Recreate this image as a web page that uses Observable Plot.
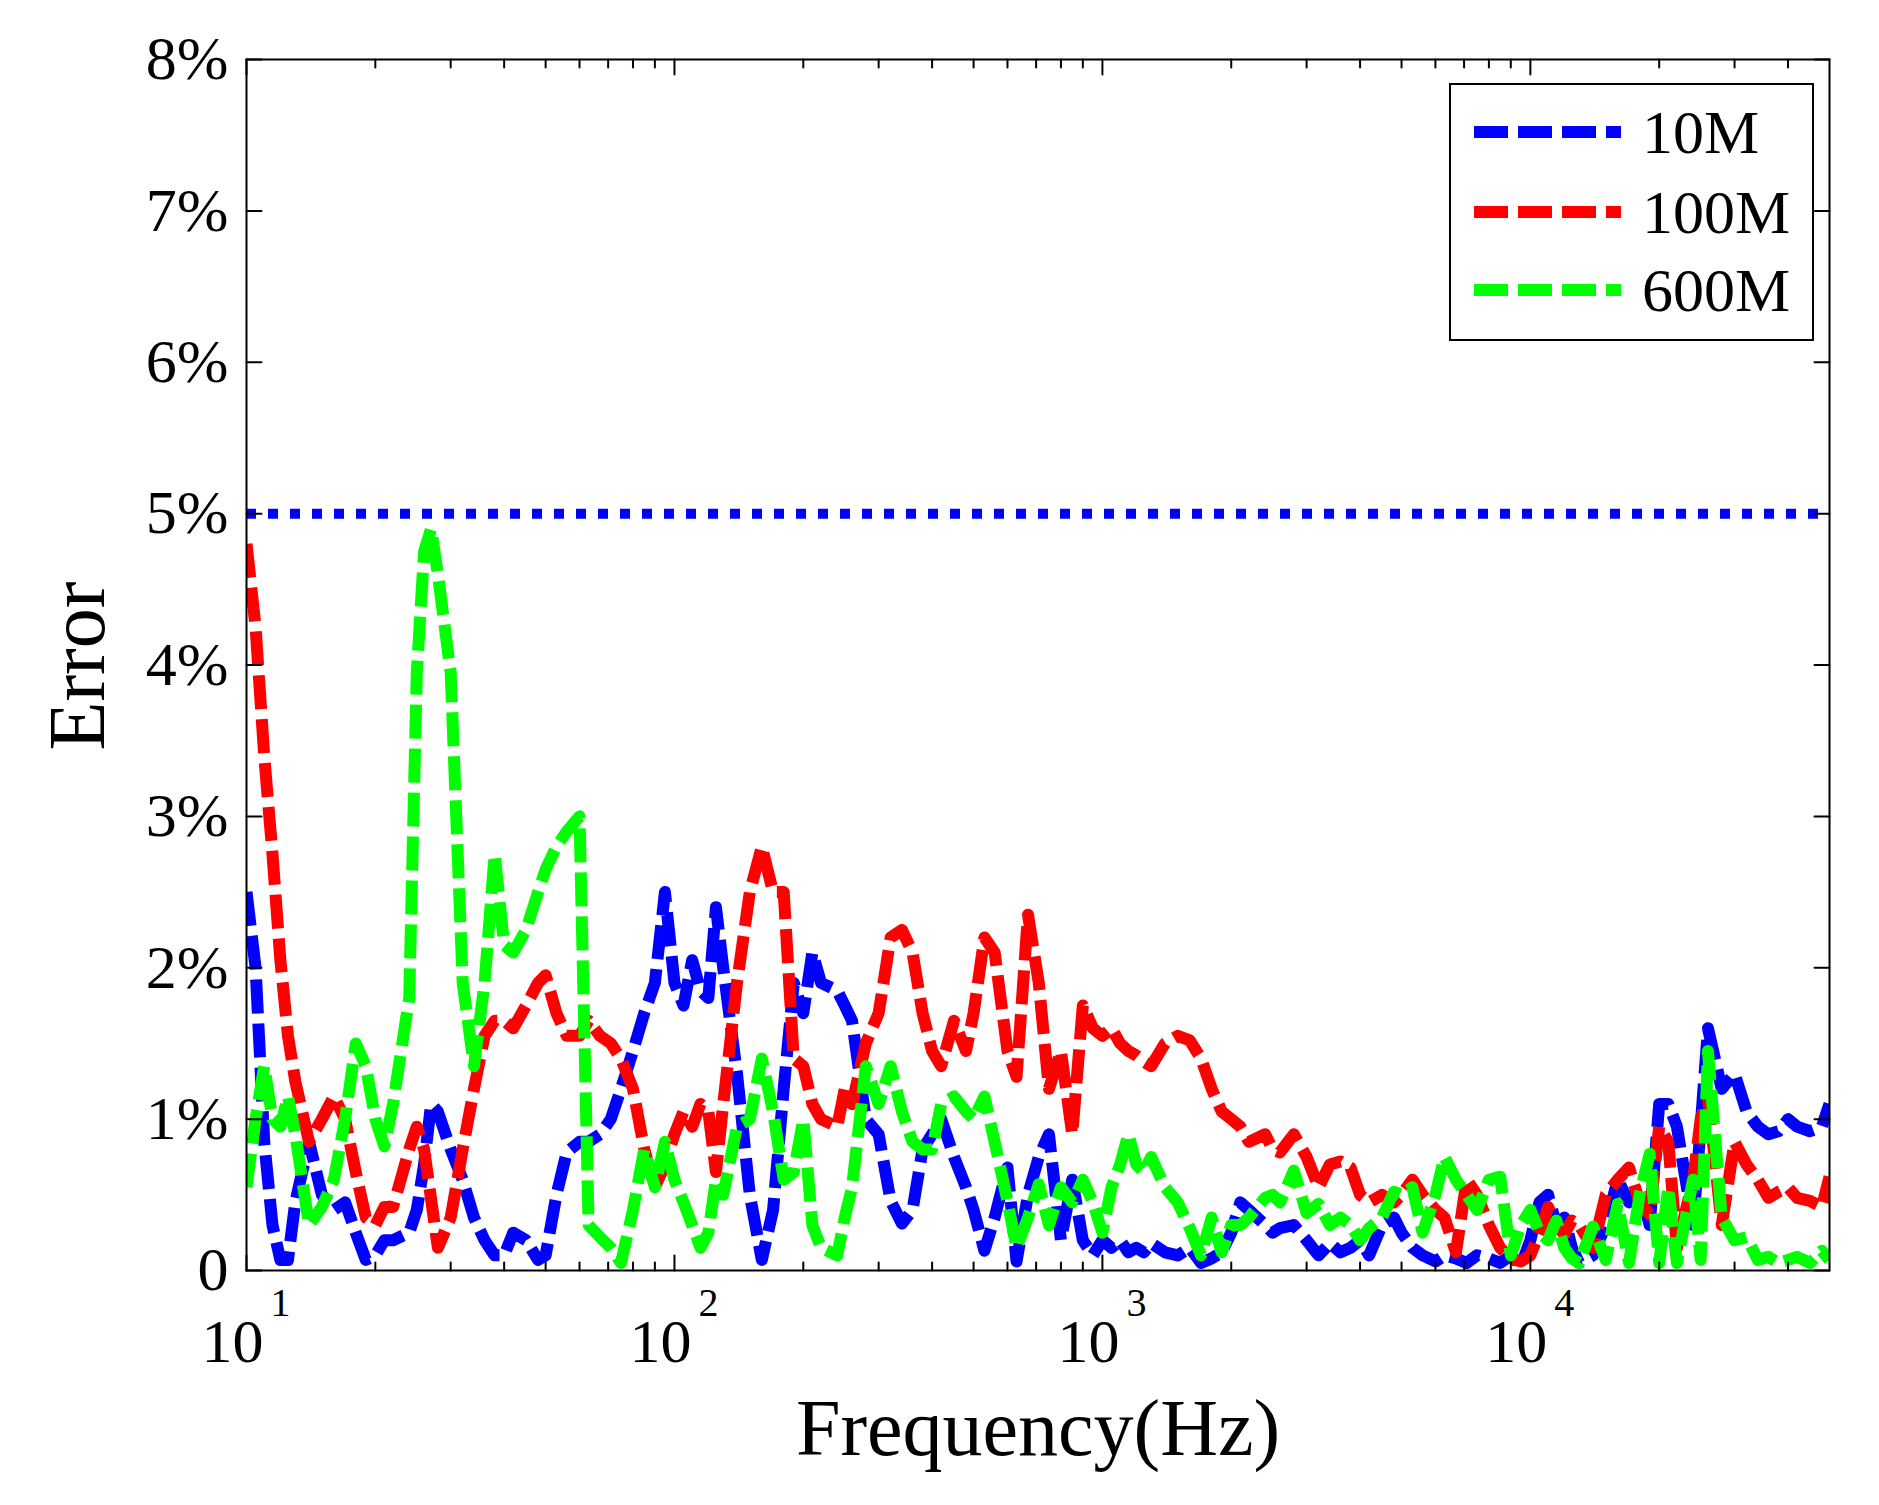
<!DOCTYPE html>
<html><head><meta charset="utf-8">
<script src="https://cdn.jsdelivr.net/npm/d3@7"></script>
<script src="https://cdn.jsdelivr.net/npm/@observablehq/plot@0.6"></script>
<style>
body{margin:0;background:#fff}
#chart{width:1879px;height:1505px}
</style>
</head><body><div id="chart"></div>
<script>
// ---- data (frequency in Hz, error in %) ----
const freqHz = [
  10,10.5,11,11.5,12,12.5,13,14,15,16,17,18,19,20,21,22,24,25,26,27,28,30,32,34,36,38,40,42,45,48,50,53,56,60,63,67,71,75,80,85,90,95,
  100,105,110,115,120,125,130,140,150,160,170,180,190,200,210,220,240,250,260,280,300,320,340,360,380,400,420,450,480,500,530,560,600,630,670,710,750,800,850,900,950,
  1000,1050,1100,1150,1200,1250,1300,1400,1500,1600,1700,1800,1900,2000,2100,2200,2400,2500,2600,2800,3000,3200,3400,3600,3800,4000,4200,4500,4800,5000,5300,5600,6000,6300,6700,7100,7500,8000,8500,9000,9500,
  10000,10500,11000,11500,12000,12500,13000,14000,15000,16000,17000,18000,19000,20000,21000,22000,24000,25000,26000,28000,30000,32000,34000,36000,38000,40000,42000,45000,48000,50000
];
const err10M = [
  2.5,2.0,0.85,0.3,0.07,0.07,0.45,0.85,0.5,0.4,0.45,0.25,0.07,0.1,0.2,0.2,0.25,0.4,0.7,1.1,1.05,0.8,0.6,0.35,0.2,0.1,0.1,0.25,0.2,0.07,0.1,0.5,0.78,0.85,0.85,0.9,1.0,1.2,1.45,1.7,1.9,2.5,
  1.9,1.75,2.05,1.85,1.8,2.4,2.0,1.3,0.5,0.07,0.4,1.2,1.9,1.7,2.1,1.9,1.85,1.75,1.65,1.0,0.9,0.46,0.31,0.4,0.8,0.9,1.0,0.75,0.55,0.4,0.13,0.35,0.68,0.06,0.5,0.75,0.9,0.2,0.6,0.2,0.1,
  0.2,0.15,0.2,0.12,0.15,0.12,0.18,0.12,0.1,0.15,0.05,0.08,0.12,0.25,0.45,0.4,0.3,0.25,0.28,0.3,0.2,0.1,0.18,0.12,0.15,0.2,0.1,0.3,0.35,0.25,0.15,0.1,0.06,0.1,0.08,0.05,0.1,0.08,0.05,0.1,0.03,
  0.2,0.45,0.5,0.3,0.35,0.15,0.05,0.1,0.3,0.6,0.45,0.55,0.3,1.1,1.1,0.95,0.3,0.95,1.6,1.2,1.3,1.05,0.95,0.9,0.92,1.0,0.95,0.92,0.95,1.1
];
const err100M = [
  4.8,4.25,3.4,2.75,2.05,1.55,1.25,0.85,1.0,1.15,1.0,0.65,0.35,0.3,0.42,0.42,0.8,0.95,0.8,0.47,0.15,0.35,0.8,1.2,1.55,1.65,1.65,1.6,1.75,1.9,1.95,1.7,1.55,1.55,1.65,1.55,1.5,1.4,1.2,0.8,0.55,0.7,
  0.9,1.05,0.95,1.1,1.05,0.65,1.1,1.9,2.5,2.8,2.5,2.5,1.4,1.35,1.1,1.0,0.95,1.2,1.1,1.5,1.7,2.2,2.25,2.1,1.7,1.45,1.35,1.65,1.45,1.7,2.2,2.1,1.45,1.28,2.35,1.9,1.2,1.45,0.9,1.75,1.6,
  1.55,1.6,1.5,1.45,1.42,1.38,1.35,1.5,1.55,1.52,1.4,1.2,1.05,1.0,0.95,0.85,0.9,0.8,0.78,0.9,0.75,0.55,0.7,0.72,0.68,0.5,0.45,0.5,0.45,0.5,0.6,0.5,0.4,0.35,0.12,0.6,0.5,0.3,0.15,0.08,0.06,
  0.1,0.25,0.42,0.3,0.24,0.33,0.3,0.15,0.5,0.6,0.68,0.45,0.37,0.95,0.85,0.15,0.6,1.0,1.15,0.3,0.85,0.7,0.6,0.48,0.52,0.55,0.48,0.46,0.42,0.62
];
const err600M = [
  0.55,1.0,1.35,1.0,0.95,1.15,0.9,0.3,0.42,0.6,1.0,1.5,1.35,1.0,0.82,1.1,1.8,3.95,4.75,4.9,4.6,3.95,1.9,1.35,1.9,2.75,2.15,2.1,2.25,2.5,2.65,2.8,2.9,3.0,0.3,0.22,0.15,0.05,0.4,0.8,0.55,0.85,
  0.6,0.45,0.3,0.15,0.25,0.6,0.5,0.95,1.0,1.4,1.05,0.6,0.65,1.0,0.3,0.15,0.1,0.35,0.55,1.35,1.1,1.35,1.05,0.85,0.8,0.8,1.1,1.15,1.05,1.0,1.15,0.85,0.46,0.15,0.35,0.57,0.3,0.55,0.45,0.6,0.45,
  0.25,0.55,0.7,0.9,0.7,0.65,0.75,0.55,0.45,0.28,0.1,0.35,0.12,0.3,0.3,0.35,0.48,0.5,0.45,0.66,0.38,0.44,0.3,0.35,0.3,0.2,0.28,0.35,0.52,0.5,0.55,0.25,0.5,0.75,0.6,0.5,0.4,0.6,0.62,0.1,0.3,
  0.4,0.25,0.2,0.33,0.15,0.08,0.05,0.29,0.07,0.44,0.05,0.5,0.77,0.05,0.55,0.05,0.6,0.07,1.45,0.35,0.2,0.22,0.07,0.09,0.05,0.07,0.09,0.05,0.13,0.07
];
const seriesNames = ["10M", "100M", "600M"];
const seriesColors = ["#0000ff", "#ff0000", "#00ff00"];
const thresholdPct = [5];
const yTickValues = [0, 1, 2, 3, 4, 5, 6, 7, 8];
const yTickLabels = ["0", "1%", "2%", "3%", "4%", "5%", "6%", "7%", "8%"];
const xMajorTicks = [10, 100, 1000, 10000];
const xMajorExponents = ["1", "2", "3", "4"];
const xMinorTicks = [20,30,40,50,60,70,80,90,200,300,400,500,600,700,800,900,2000,3000,4000,5000,6000,7000,8000,9000,20000,30000,40000];
const xLabel = "Frequency(Hz)";
const yLabel = "Error";

// ---- build table ----
const seriesValues = [err10M, err100M, err600M];
const rows = [];
seriesValues.forEach((vals, s) => {
  vals.forEach((v, i) => rows.push({f: freqHz[i], e: v, s: seriesNames[s]}));
});

const FONT = "'Liberation Serif', 'Times New Roman', serif";
const W = 1879, H = 1505;
const M = {left: 246, right: 50, top: 59, bottom: 235};
const tickShape = {draw(ctx, l) { ctx.moveTo(0, 0); ctx.lineTo(0, -l); }};
const tickCommon = {anchor: "start", shape: tickShape, stroke: "black", strokeWidth: 2};

const lineMarks = seriesNames.map((name, i) =>
  Plot.line(rows.filter(r => r.s === name), {
    x: "f", y: "e", stroke: seriesColors[i], strokeWidth: 12,
    strokeDasharray: "34,10", strokeLinejoin: "round", strokeLinecap: "butt", clip: true
  })
);

const chart = Plot.plot({
  width: W, height: H,
  marginLeft: M.left, marginRight: M.right, marginTop: M.top, marginBottom: M.bottom,
  style: {fontFamily: FONT, background: "white", color: "black"},
  x: {type: "log", domain: [10, 50000], axis: null},
  y: {domain: [0, 8], axis: null},
  marks: [
    Plot.ruleY(thresholdPct, {stroke: "#0000ff", strokeWidth: 10, strokeDasharray: "10,12"}),
    ...lineMarks,
    Plot.frame({stroke: "black", strokeWidth: 2}),
    // ticks (inward, on all four sides)
    Plot.vector(xMajorTicks, {x: d => d, frameAnchor: "bottom", length: 15, rotate: 0, ...tickCommon}),
    Plot.vector(xMinorTicks, {x: d => d, frameAnchor: "bottom", length: 8, rotate: 0, ...tickCommon}),
    Plot.vector(xMajorTicks, {x: d => d, frameAnchor: "top", length: 15, rotate: 180, ...tickCommon}),
    Plot.vector(xMinorTicks, {x: d => d, frameAnchor: "top", length: 8, rotate: 180, ...tickCommon}),
    Plot.vector(yTickValues, {y: d => d, frameAnchor: "left", length: 15, rotate: 90, ...tickCommon}),
    Plot.vector(yTickValues, {y: d => d, frameAnchor: "right", length: 15, rotate: -90, ...tickCommon}),
    // tick labels
    Plot.text(yTickValues, {y: d => d, frameAnchor: "left", text: (d, i) => yTickLabels[i],
      textAnchor: "end", dx: -18, fontSize: 62, fill: "black"}),
    Plot.text(xMajorTicks, {x: d => d, frameAnchor: "bottom", text: () => "10",
      textAnchor: "end", lineAnchor: "bottom", dx: 17, dy: 91, fontSize: 62, fill: "black"}),
    Plot.text(xMajorTicks, {x: d => d, frameAnchor: "bottom", text: (d, i) => xMajorExponents[i],
      textAnchor: "start", lineAnchor: "bottom", dx: 24, dy: 45, fontSize: 40, fill: "black"})
  ]
});

document.getElementById("chart").appendChild(chart);

// ---- titles and legend ----
const svg = d3.select(chart);
svg.append("text").attr("x", 1038).attr("y", 1455).attr("text-anchor", "middle")
  .attr("font-family", FONT).attr("font-size", 80).attr("fill", "black").text(xLabel);
svg.append("text").attr("transform", "translate(104,666) rotate(-90)").attr("text-anchor", "middle")
  .attr("font-family", FONT).attr("font-size", 80).attr("fill", "black").text(yLabel);

const lg = svg.append("g");
lg.append("rect").attr("x", 1450).attr("y", 84).attr("width", 363).attr("height", 256)
  .attr("fill", "white").attr("stroke", "black").attr("stroke-width", 2);
const rowY = [132, 212, 290];
seriesNames.forEach((name, i) => {
  lg.append("line").attr("x1", 1474).attr("x2", 1621).attr("y1", rowY[i]).attr("y2", rowY[i])
    .attr("stroke", seriesColors[i]).attr("stroke-width", 12).attr("stroke-dasharray", "34,10");
  lg.append("text").attr("x", 1642).attr("y", rowY[i] + 21).attr("text-anchor", "start")
    .attr("font-family", FONT).attr("font-size", 62).attr("fill", "black").text(name);
});
</script>
</body></html>
